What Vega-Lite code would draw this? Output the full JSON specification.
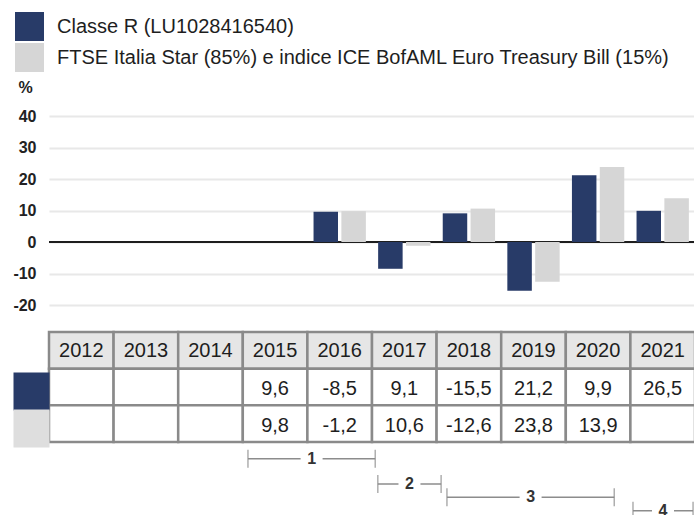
{
  "$schema": "https://vega.github.io/schema/vega-lite/v6.json",
  "padding": {"left": -6, "top": 12, "right": 0, "bottom": 0},
  "background": "white",
  "bounds": "flush",
  "spacing": 0,
  "config": {
    "view": {"stroke": null},
    "font": "Liberation Sans",
    "locale": {"number": {"decimal": ",", "thousands": ".", "grouping": [3], "currency": ["", " €"], "minus": "-"}}
  },
  "datasets": {
    "bars": [
      {"year": "2016", "series": "Classe R (LU1028416540)", "value": 9.6},
      {"year": "2017", "series": "Classe R (LU1028416540)", "value": -8.5},
      {"year": "2018", "series": "Classe R (LU1028416540)", "value": 9.1},
      {"year": "2019", "series": "Classe R (LU1028416540)", "value": -15.5},
      {"year": "2020", "series": "Classe R (LU1028416540)", "value": 21.2},
      {"year": "2021", "series": "Classe R (LU1028416540)", "value": 9.9},
      {"year": "2016", "series": "FTSE Italia Star (85%) e indice ICE BofAML Euro Treasury Bill (15%)", "value": 9.8},
      {"year": "2017", "series": "FTSE Italia Star (85%) e indice ICE BofAML Euro Treasury Bill (15%)", "value": -1.2},
      {"year": "2018", "series": "FTSE Italia Star (85%) e indice ICE BofAML Euro Treasury Bill (15%)", "value": 10.6},
      {"year": "2019", "series": "FTSE Italia Star (85%) e indice ICE BofAML Euro Treasury Bill (15%)", "value": -12.6},
      {"year": "2020", "series": "FTSE Italia Star (85%) e indice ICE BofAML Euro Treasury Bill (15%)", "value": 23.8},
      {"year": "2021", "series": "FTSE Italia Star (85%) e indice ICE BofAML Euro Treasury Bill (15%)", "value": 13.9}
    ],
    "table": [
      {"year": "2012", "row": "anno"}, {"year": "2013", "row": "anno"}, {"year": "2014", "row": "anno"},
      {"year": "2015", "row": "anno"}, {"year": "2016", "row": "anno"}, {"year": "2017", "row": "anno"},
      {"year": "2018", "row": "anno"}, {"year": "2019", "row": "anno"}, {"year": "2020", "row": "anno"},
      {"year": "2021", "row": "anno"},
      {"year": "2012", "row": "classe", "value": null}, {"year": "2013", "row": "classe", "value": null},
      {"year": "2014", "row": "classe", "value": null}, {"year": "2015", "row": "classe", "value": 9.6},
      {"year": "2016", "row": "classe", "value": -8.5}, {"year": "2017", "row": "classe", "value": 9.1},
      {"year": "2018", "row": "classe", "value": -15.5}, {"year": "2019", "row": "classe", "value": 21.2},
      {"year": "2020", "row": "classe", "value": 9.9}, {"year": "2021", "row": "classe", "value": 26.5},
      {"year": "2012", "row": "indice", "value": null}, {"year": "2013", "row": "indice", "value": null},
      {"year": "2014", "row": "indice", "value": null}, {"year": "2015", "row": "indice", "value": 9.8},
      {"year": "2016", "row": "indice", "value": -1.2}, {"year": "2017", "row": "indice", "value": 10.6},
      {"year": "2018", "row": "indice", "value": -12.6}, {"year": "2019", "row": "indice", "value": 23.8},
      {"year": "2020", "row": "indice", "value": 13.9}, {"year": "2021", "row": "indice", "value": null}
    ],
    "periods": [
      {"label": "1", "start": 2015.08, "end": 2017.05, "level": 2.1},
      {"label": "2", "start": 2017.09, "end": 2018.07, "level": 5.25},
      {"label": "3", "start": 2018.16, "end": 2020.75, "level": 6.9},
      {"label": "4", "start": 2021.04, "end": 2021.97, "level": 8.6}
    ]
  },
  "vconcat": [
    {
      "width": 646,
      "height": 216,
      "data": {"name": "bars"},
      "layer": [
        {
          "mark": {"type": "rule", "color": "#1f1f1f", "strokeWidth": 1.5},
          "encoding": {"y": {"datum": 0, "type": "quantitative",
                  "scale": {"domain": [-28.57, 40], "nice": false, "zero": false},
                  "axis": {"values": [-20, -10, 0, 10, 20, 30, 40], "labelOverlap": false, "title": "%", "titleAngle": 0, "titleAlign": "left", "titleBaseline": "middle",
                           "titleX": -31, "titleY": -29, "titleFontSize": 16, "titleFontWeight": "bold", "titleColor": "#1e1e1e",
                           "labelFontSize": 16, "labelFontWeight": "bold", "labelColor": "#222222", "labelPadding": 13, "ticks": false, "domain": false,
                           "grid": true, "gridColor": "#e8e8e8", "gridWidth": 2}}}
        },
        {
          "mark": {"type": "bar"},
          "encoding": {
            "x": {"field": "year", "type": "ordinal",
                  "scale": {"domain": ["2012","2013","2014","2015","2016","2017","2018","2019","2020","2021"], "paddingInner": 0.19, "paddingOuter": 0.095},
                  "axis": null},
            "xOffset": {"field": "series", "type": "nominal",
                        "scale": {"domain": ["Classe R (LU1028416540)", "FTSE Italia Star (85%) e indice ICE BofAML Euro Treasury Bill (15%)"], "paddingInner": 0.12, "paddingOuter": 0}},
            "y": {"field": "value", "type": "quantitative",
                  "scale": {"domain": [-28.57, 40], "nice": false, "zero": false},
                  "axis": {"values": [-20, -10, 0, 10, 20, 30, 40], "labelOverlap": false, "title": "%", "titleAngle": 0, "titleAlign": "left", "titleBaseline": "middle",
                           "titleX": -31, "titleY": -29, "titleFontSize": 16, "titleFontWeight": "bold", "titleColor": "#1e1e1e",
                           "labelFontSize": 16, "labelFontWeight": "bold", "labelColor": "#222222", "labelPadding": 13, "ticks": false, "domain": false,
                           "grid": true, "gridColor": "#e8e8e8", "gridWidth": 2}},
            "color": {"field": "series", "type": "nominal",
                      "scale": {"domain": ["Classe R (LU1028416540)", "FTSE Italia Star (85%) e indice ICE BofAML Euro Treasury Bill (15%)"], "range": ["#283b68", "#d6d6d6"]},
                      "legend": {"title": null, "orient": "none", "legendX": -34, "legendY": -104, "direction": "vertical",
                                 "symbolType": "square", "symbolSize": 841, "symbolStrokeWidth": 0, "symbolOpacity": 1,
                                 "labelFontSize": 20, "labelColor": "#1e1e1e", "labelOffset": 13, "rowPadding": 2, "labelLimit": 0, "padding": 0}}
          }
        }
      ]
    },
    {
      "width": 646,
      "height": 110,
      "data": {"name": "table"},
      "encoding": {
        "x": {"field": "year", "type": "ordinal",
              "scale": {"domain": ["2012","2013","2014","2015","2016","2017","2018","2019","2020","2021"], "paddingInner": 0, "paddingOuter": 0},
              "axis": null},
        "y": {"field": "row", "type": "nominal",
              "scale": {"domain": ["anno", "classe", "indice"], "paddingInner": 0, "paddingOuter": 0},
              "axis": {"title": null, "labels": false, "domain": false, "grid": false, "ticks": true, "values": ["classe", "indice"],
                       "tickSize": 36, "tickWidth": 38, "tickOffset": 4,
                       "tickColor": {"condition": {"test": "datum.value === 'classe'", "value": "#283b68"}, "value": "#dedede"}}}
      },
      "layer": [
        {
          "mark": {"type": "rect", "stroke": "#8a8a8a", "strokeWidth": 2.5},
          "encoding": {"fill": {"condition": {"test": "datum.row === 'anno'", "value": "#e6e6e6"}, "value": "#ffffff"}}
        },
        {
          "transform": [{"filter": "datum.row === 'anno'"}],
          "mark": {"type": "text", "fontSize": 20, "color": "#1e1e1e", "dy": 1},
          "encoding": {"text": {"field": "year"}}
        },
        {
          "transform": [{"filter": "datum.row !== 'anno' && isValid(datum.value)"}],
          "mark": {"type": "text", "fontSize": 20, "color": "#1e1e1e", "dy": 2},
          "encoding": {"text": {"field": "value", "type": "quantitative", "format": ".1f"}}
        }
      ]
    },
    {
      "width": 646,
      "height": 80,
      "data": {"name": "periods"},
      "transform": [{"calculate": "(datum.start + datum.end) / 2", "as": "mid"}],
      "encoding": {
        "y": {"field": "level", "type": "quantitative", "scale": {"domain": [0, 10], "reverse": true, "nice": false, "zero": false}, "axis": null}
      },
      "layer": [
        {
          "mark": {"type": "rule", "color": "#8c8c8c", "strokeWidth": 1.5},
          "encoding": {
            "x": {"field": "start", "type": "quantitative", "scale": {"domain": [2012, 2022], "nice": false, "zero": false}, "axis": null},
            "x2": {"field": "end"}
          }
        },
        {
          "mark": {"type": "tick", "orient": "vertical", "color": "#8c8c8c", "thickness": 1.5, "size": 18},
          "encoding": {"x": {"field": "start", "type": "quantitative"}}
        },
        {
          "mark": {"type": "tick", "orient": "vertical", "color": "#8c8c8c", "thickness": 1.5, "size": 18},
          "encoding": {"x": {"field": "end", "type": "quantitative"}}
        },
        {
          "mark": {"type": "point", "shape": "M-1,-0.5H1V0.5H-1Z", "filled": true, "color": "#ffffff", "size": 484, "opacity": 1, "strokeWidth": 0},
          "encoding": {"x": {"field": "mid", "type": "quantitative"}}
        },
        {
          "mark": {"type": "text", "fontSize": 16, "fontWeight": "bold", "color": "#333333"},
          "encoding": {"x": {"field": "mid", "type": "quantitative"}, "text": {"field": "label"}}
        }
      ]
    }
  ]
}
